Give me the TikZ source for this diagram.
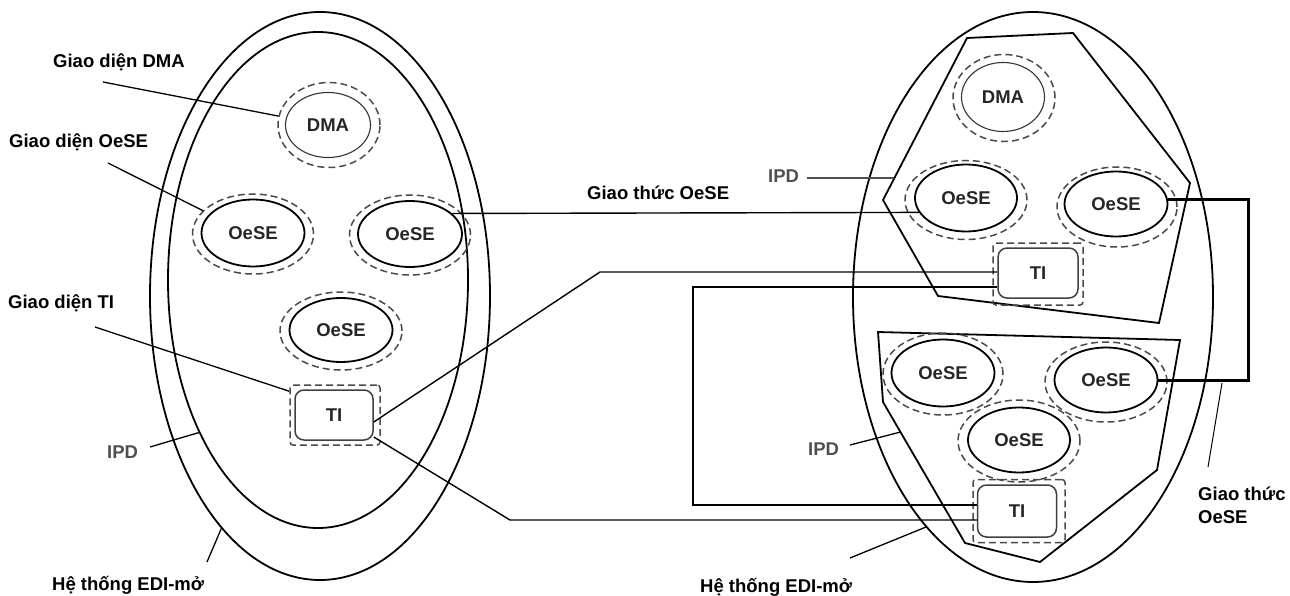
\documentclass[tikz,border=0pt]{standalone}
\usepackage{fontspec}
\setmainfont{Liberation Sans}
\usetikzlibrary{shapes.geometric,calc}
\definecolor{ringc}{HTML}{4a4a4a}
\definecolor{ipdc}{HTML}{505050}
\begin{document}
\begin{tikzpicture}[x=1pt,y=-1pt,
  lbl/.style={font=\bfseries\fontsize{18.5}{20}\selectfont, anchor=base west, inner sep=0pt},
  ipdlbl/.style={lbl, text=ipdc},
  sys/.style={ellipse, draw, line width=1.8pt, inner sep=0pt},
  ent/.style={ellipse, draw, line width=1.8pt, inner sep=0pt, text=black!85,
    font=\bfseries\fontsize{18.5}{20}\selectfont},
  thinent/.style={ent, line width=1.1pt, draw=black!80},
  ring/.style={ellipse, draw=ringc, dash pattern=on 7pt off 4pt, line width=1.5pt, inner sep=0pt},
  tibox/.style={rectangle, rounded corners=9pt, draw=black!75, line width=1.5pt, inner sep=0pt,
    text=black!85, font=\bfseries\fontsize{18.5}{20}\selectfont},
  tiring/.style={rectangle, rounded corners=3pt, draw=ringc, dash pattern=on 7pt off 4pt, line width=1.5pt, inner sep=0pt},
  wire/.style={line width=1.4pt},
  lead/.style={line width=1.3pt},
  poly/.style={line width=1.8pt, line join=miter}
]
\useasboundingbox (0,0) rectangle (1290,596);

% ---------- left system ----------
\node[sys, minimum width=340pt, minimum height=568pt] (lsys) at (320,296) {};
\node[sys, minimum width=300pt, minimum height=496pt] (lipd) at (318,280) {};

\node[ring, minimum width=102pt, minimum height=85pt] (lDMAr) at (329,125) {};
\node[thinent, minimum width=85pt, minimum height=65pt] (lDMAi) at (328,125) {DMA};

\node[ring, minimum width=121pt, minimum height=80pt] (lOe1r) at (253,234) {};
\node[ent, minimum width=103pt, minimum height=67pt] (lOe1i) at (253,233) {OeSE};

\node[ring, minimum width=121pt, minimum height=80pt] (lOe2r) at (410,235) {};
\node[ent, minimum width=104pt, minimum height=66pt] (lOe2i) at (410,234) {OeSE};

\node[ring, minimum width=122pt, minimum height=78pt] (lOe3r) at (341,331) {};
\node[ent, minimum width=103pt, minimum height=64pt] (lOe3i) at (341,330) {OeSE};

\node[tiring, minimum width=90pt, minimum height=60pt] (lTIr) at (335,415) {};
\node[tibox, minimum width=78pt, minimum height=50pt] (lTIi) at (334,415) {TI};

% ---------- right system ----------
\node[sys, minimum width=360pt, minimum height=570pt] (rsys) at (1033,297) {};

\coordinate (u1) at (967,38);
\coordinate (u2) at (1073,33);
\coordinate (u3) at (1190,183);
\coordinate (u4) at (1159,323);
\coordinate (u5) at (938,296);
\coordinate (u6) at (883,200);
\draw[poly] (u1) -- (u2) -- (u3) -- (u4) -- (u5) -- (u6) -- cycle;

\coordinate (w1) at (878,332);
\coordinate (w2) at (1180,340);
\coordinate (w3) at (1157,470);
\coordinate (w4) at (1040,562);
\coordinate (w5) at (965,543);
\coordinate (w6) at (883,402);
\draw[poly] (w1) -- (w2) -- (w3) -- (w4) -- (w5) -- (w6) -- cycle;

\node[ring, minimum width=102pt, minimum height=87pt] (rDMAr) at (1004,98) {};
\node[thinent, minimum width=83pt, minimum height=69pt] (rDMAi) at (1003,97) {DMA};

\node[ring, minimum width=122pt, minimum height=79pt] (rOe1r) at (966,200) {};
\node[ent, minimum width=102pt, minimum height=67pt] (rOe1i) at (966,198) {OeSE};

\node[ring, minimum width=120pt, minimum height=80pt] (rOe2r) at (1117,207) {};
\node[ent, minimum width=103pt, minimum height=65pt] (rOe2i) at (1116,204) {OeSE};

\node[tiring, minimum width=90pt, minimum height=62pt] (rTI1r) at (1038,274) {};
\node[tibox, minimum width=80pt, minimum height=50pt] (rTI1i) at (1038,273) {TI};

\node[ring, minimum width=120pt, minimum height=82pt] (rOe3r) at (943,374) {};
\node[ent, minimum width=103pt, minimum height=67pt] (rOe3i) at (943,373) {OeSE};

\node[ring, minimum width=122pt, minimum height=82pt] (rOe4r) at (1019,441) {};
\node[ent, minimum width=102pt, minimum height=65pt] (rOe4i) at (1019,440) {OeSE};

\node[ring, minimum width=122pt, minimum height=80pt] (rOe5r) at (1106,382) {};
\node[ent, minimum width=103pt, minimum height=65pt] (rOe5i) at (1106,380) {OeSE};

\node[tiring, minimum width=92pt, minimum height=63pt] (rTI2r) at (1019,511) {};
\node[tibox, minimum width=79pt, minimum height=52pt] (rTI2i) at (1017,511) {TI};

% ---------- connectors ----------
\draw[wire] (lOe2i.26) -- (rOe1i.197);

\coordinate (bend1) at (600,272);
\draw[wire] ([yshift=-7pt]lTIi.east) -- (bend1) -- ([yshift=1pt]rTI1i.west);

\coordinate (bend2) at (510,520);
\draw[wire] ([yshift=-22pt]lTIi.east) -- (bend2) -- ([yshift=-9pt]rTI2i.west);

\coordinate (bend3) at (693,287);
\draw[wire] ([yshift=-14pt]rTI1i.west) -- (bend3) |- ([yshift=6pt]rTI2i.west);

\draw[line width=3pt] ([yshift=4pt]rOe2i.east) -- ++(80.5,0) |- (rOe5i.east);

% ---------- labels ----------
\node[lbl] (tDMA) at (53,68) {Giao diện DMA};
\node[lbl] (tOe) at (9,148) {Giao diện OeSE};
\node[lbl] (tTI) at (8,308) {Giao diện TI};
\node[ipdlbl] (tIPD1) at (107,458) {IPD};
\node[lbl] (tEDI1) at (52,590) {Hệ thống EDI-mở};
\node[lbl] (tGT) at (587,200) {Giao thức OeSE};
\node[ipdlbl] (tIPD2) at (768,183) {IPD};
\node[ipdlbl] (tIPD3) at (808,455) {IPD};
\node[lbl] (tEDI2) at (700,592) {Hệ thống EDI-mở};
\node[lbl] (tGT2a) at (1198,500) {Giao thức};
\node[lbl] (tGT2b) at (1198,523) {OeSE};

% ---------- leaders ----------
\coordinate (kDMA) at (103,82);
\draw[lead] (kDMA) -- (lDMAr.170);
\coordinate (kOe) at (108,163);
\draw[lead] (kOe) -- (lOe1r.155);
\coordinate (kTI) at (95,327);
\draw[lead] (kTI) -- ([yshift=-7pt]lTIr.north west);
\coordinate (kIPD1) at (150,447);
\draw[lead] (kIPD1) -- (lipd.232.4);
\coordinate (kEDI1) at (207,562);
\draw[lead] (kEDI1) -- (lsys.247.7);

\coordinate (kIPD2) at (807,178);
\draw[lead, draw=ipdc, line width=1.6pt] (kIPD2) -- ($(u6)!0.136!(u1)$);
\coordinate (kIPD3) at (850,445);
\draw[lead] (kIPD3) -- ($(w6)!0.213!(w5)$);
\coordinate (kEDI2) at (850,558);
\draw[lead] (kEDI2) -- (rsys.245.9);
\coordinate (kGT) at (1208,467);
\coordinate (kGTe) at (1222,383);
\draw[lead, line width=1pt] (kGT) -- (kGTe);
\end{tikzpicture}
\end{document}
